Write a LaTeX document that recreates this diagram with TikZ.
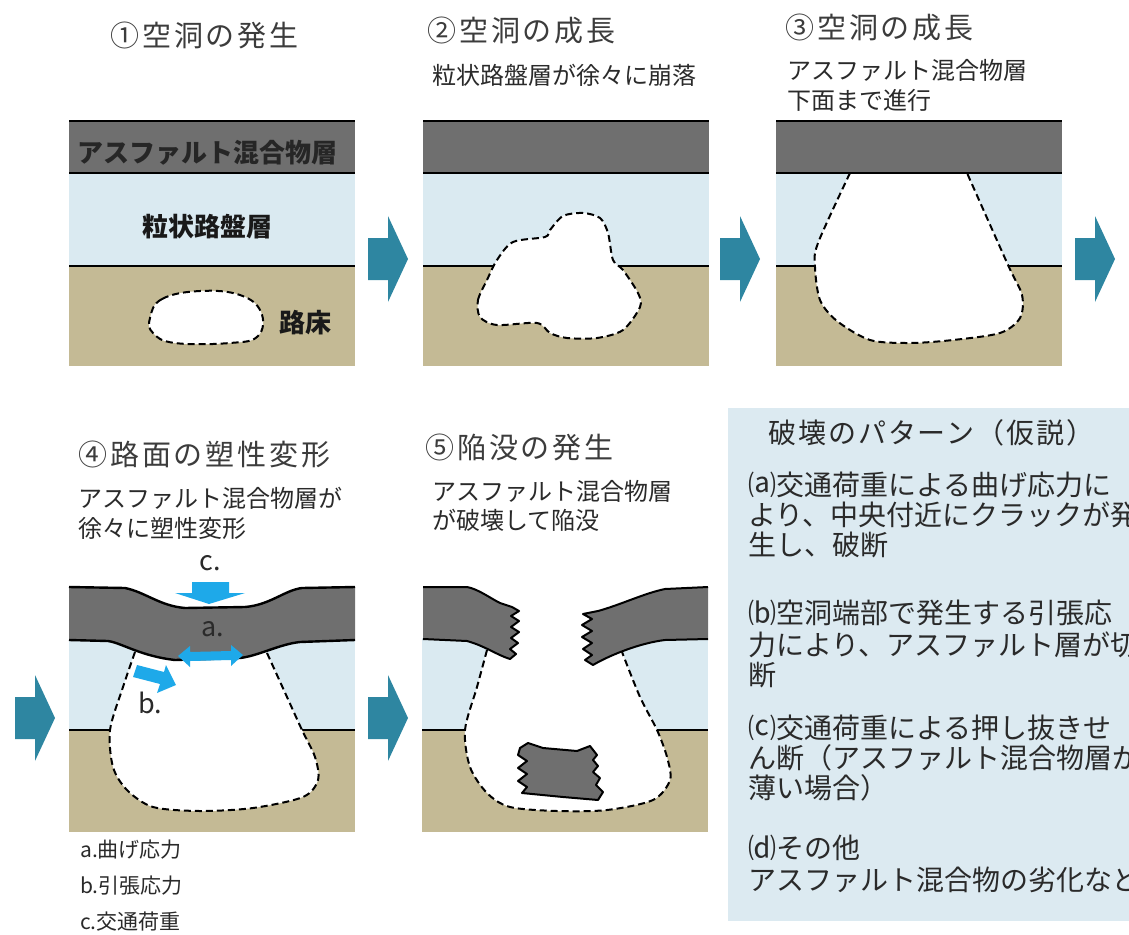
\documentclass[tikz,border=0pt]{standalone}
\usepackage{fontspec}
\setmainfont{Noto Sans CJK JP}
\newfontfamily\widehead[LetterSpace=10]{Noto Sans CJK JP}
\newfontfamily\boxhead[LetterSpace=7]{Noto Sans CJK JP}
\definecolor{asphaltgray}{HTML}{6F6F6F}
\definecolor{baseblue}{HTML}{DAEAF1}
\definecolor{subgradetan}{HTML}{C4BA95}
\definecolor{boxblue}{HTML}{DCEAF1}
\definecolor{flowteal}{HTML}{2E86A1}
\definecolor{forceblue}{HTML}{1EA9E9}
\definecolor{titlegray}{HTML}{3C3C3C}
\definecolor{textgray}{HTML}{2A2A2A}
\begin{document}
\begin{tikzpicture}[x=1pt,y=-1pt,
  layerline/.style={line width=2.4pt,black},
  voidline/.style={line width=2pt,black,dash pattern=on 7pt off 4pt,fill=white},
  piece/.style={fill=asphaltgray,draw=black,line width=2pt,line join=round},
  headtext/.style={anchor=west,inner sep=0pt,text=titlegray,font=\widehead\fontsize{29}{31}\selectfont},
  subtext/.style={anchor=west,inner sep=0pt,text=textgray,font=\fontsize{24}{26}\selectfont},
  layertext/.style={inner sep=0pt,text=black!90,font=\fontsize{26}{28}\selectfont\bfseries},
  forcetext/.style={inner sep=0pt,text=textgray,font=\fontsize{27}{29}\selectfont},
  legendtext/.style={anchor=west,inner sep=0pt,text=textgray,font=\fontsize{21}{23}\selectfont},
  boxtitle/.style={anchor=west,inner sep=0pt,text=textgray,font=\boxhead\fontsize{28}{30}\selectfont},
  boxtext/.style={anchor=west,inner sep=0pt,text=textgray,font=\fontsize{28}{30}\selectfont},
  flowarrow/.pic={\fill[flowteal] (-20,-21) -- (0,-21) -- (0,-43) -- (20,0) -- (0,43) -- (0,21) -- (-20,21) -- cycle;}
]
\useasboundingbox (0,0) rectangle (1129,934);

% ---- top row: three layered cross sections ----
\foreach \px in {69,423,776}{
  \fill[asphaltgray] (\px,121) rectangle ++(286,52);
  \fill[baseblue] (\px,173) rectangle ++(286,93);
  \fill[subgradetan] (\px,266) rectangle ++(286,100);
  \draw[layerline] (\px,266) -- ++(286,0);
}
% cavity 1: small void in the subgrade
\filldraw[voidline] plot[smooth cycle,tension=0.7] coordinates
  {(150,318) (162,299) (200,291) (240,295) (261,312) (258,336) (230,343) (175,343) (153,333)};
% cavity 2: void climbing into the base course
\filldraw[voidline] plot[smooth cycle,tension=0.5] coordinates
  {(480,317) (478,300) (487,280) (497,260) (513,242) (545,237) (550,230) (563,216) (583,213)
   (600,218) (608,233) (613,260) (623,270) (638,293) (640,307) (623,330) (597,338) (567,338)
   (550,333) (537,323) (497,325)};
% cavity 3: void reaching the asphalt underside
\filldraw[voidline] plot[smooth,tension=0.5] coordinates
  {(850,173) (818,243) (815,267) (820,300) (837,321) (870,340) (910,343) (953,340) (1000,333)
   (1020,318) (1022,295) (1008,265) (967,173)};
\foreach \px in {69,423,776}{
  \draw[layerline] (\px,121) -- ++(286,0) (\px,173) -- ++(286,0);
}
\node[layertext,text=black!85] (asphaltlbl) at (207,153) {アスファルト混合物層};
\node[layertext] (baselbl) at (207,227) {粒状路盤層};
\node[layertext] (subgradelbl) at (305,323) {路床};

% ---- panel 4: plastic deformation ----
\fill[baseblue] (69,630) rectangle (355,730);
\fill[subgradetan] (69,730) rectangle (355,832);
\draw[layerline] (69,730) -- (355,730);
\filldraw[voidline] plot[smooth,tension=0.5] coordinates
  {(135,652) (123,687) (110,730) (113,767) (127,790) (153,807) (200,811) (253,808) (303,797)
   (318,780) (315,757) (302,730) (287,697) (267,653)};
\fill[asphaltgray] (69,587) -- (125,588) .. controls (145,592) and (160,606) .. (185,608)
  -- (245,607) .. controls (270,605) and (285,590) .. (302,588) -- (355,587)
  -- (355,640) -- (300,642) .. controls (280,644) and (258,656) .. (240,658) -- (175,660)
  .. controls (140,656) and (122,643) .. (108,641) -- (69,640) -- cycle;
\draw[layerline] (69,587) -- (125,588) .. controls (145,592) and (160,606) .. (185,608)
  -- (245,607) .. controls (270,605) and (285,590) .. (302,588) -- (355,587);
\draw[layerline] (355,640) -- (300,642) .. controls (280,644) and (258,656) .. (240,658) -- (175,660)
  .. controls (140,656) and (122,643) .. (108,641) -- (69,640);
% force arrows
\fill[forceblue] (192,582) -- (229,582) -- (229,593) -- (245,593) -- (209,604) -- (175,593)
  -- (192,593) -- cycle;
\fill[forceblue] (178,656) -- (190,646) -- (190,652) -- (231,651) -- (231,645) -- (243,655)
  -- (231,666) -- (231,660) -- (190,661) -- (190,667) -- cycle;
\fill[forceblue] (137,665) -- (164,672) -- (166,665) -- (176,685) -- (157,693) -- (160,684)
  -- (133,677) -- cycle;
\node[forcetext] (clbl) at (210,563) {c.};
\node[forcetext] (albl) at (213,629) {a.};
\node[forcetext] (blbl) at (150,703) {b.};
\node[legendtext] (lega) at (80,850) {a.曲げ応力};
\node[legendtext] (legb) at (80,886) {b.引張応力};
\node[legendtext] (legc) at (80,922) {c.交通荷重};

% ---- panel 5: collapse ----
\fill[baseblue] (422,638) rectangle (708,730);
\fill[subgradetan] (422,730) rectangle (708,832);
\draw[layerline] (422,730) -- (708,730);
\fill[white] (487,634) rectangle (622,654);
\filldraw[voidline] plot[smooth,tension=0.5] coordinates
  {(487,650) (477,687) (465,730) (470,767) (487,793) (510,807) (557,811) (607,810) (653,800)
   (670,780) (667,757) (657,730) (640,697) (622,652)};
\filldraw[piece] (423,587) -- (467,587) .. controls (478,589) and (490,598) .. (500,603)
  -- (512,607) -- (519,611) -- (511,616) -- (519,621) -- (511,627) -- (519,632) -- (511,638)
  -- (518,643) -- (510,649) -- (516,654) -- (510,659) .. controls (497,655) and (485,646) .. (467,641)
  -- (423,639);
\filldraw[piece] (708,587) -- (665,589) .. controls (645,593) and (620,605) .. (598,611)
  -- (583,614) -- (592,619) -- (582,625) -- (592,631) -- (582,637) -- (592,643) -- (583,649)
  -- (592,655) -- (585,660) -- (593,665) .. controls (610,655) and (640,643) .. (665,640) -- (708,639);
\filldraw[piece] (520,748) -- (528,743) -- (543,748) -- (577,751) -- (590,746) -- (597,755)
  -- (593,760) -- (598,766) -- (593,772) -- (600,778) -- (596,785) -- (603,792) -- (598,800)
  -- (563,797) -- (522,793) -- (527,787) -- (518,781) -- (527,774) -- (518,768) -- (527,761)
  -- (518,755) -- cycle;

% ---- flow arrows between stages ----
\pic at (388,259) {flowarrow};
\pic at (740,259) {flowarrow};
\pic at (1095,259) {flowarrow};
\pic at (35,718) {flowarrow};
\pic at (388,718) {flowarrow};

% ---- stage headings ----
\node[headtext] (h1) at (110,35) {①空洞の発生};
\node[headtext] (h2) at (427,30) {②空洞の成長};
\node[subtext] (s2) at (432,75) {粒状路盤層が徐々に崩落};
\node[headtext] (h3) at (785,27) {③空洞の成長};
\node[subtext] (s3a) at (787,70) {アスファルト混合物層};
\node[subtext] (s3b) at (787,100) {下面まで進行};
\node[headtext] (h4) at (78,454) {④路面の塑性変形};
\node[subtext] (s4a) at (78,498) {アスファルト混合物層が};
\node[subtext] (s4b) at (78,528) {徐々に塑性変形};
\node[headtext] (h5) at (425,447) {⑤陥没の発生};
\node[subtext] (s5a) at (432,491) {アスファルト混合物層};
\node[subtext] (s5b) at (432,520) {が破壊して陥没};

% ---- failure pattern box ----
\fill[boxblue] (728,408) rectangle (1129,921);
\node[boxtitle] (bt) at (768,433) {破壊のパターン（仮説）};
\node[boxtext] (pa1) at (748,485) {⒜交通荷重による曲げ応力に};
\node[boxtext] (pa2) at (748,515) {より、中央付近にクラックが発};
\node[boxtext] (pa3) at (748,545) {生し、破断};
\node[boxtext] (pb1) at (748,613) {⒝空洞端部で発生する引張応};
\node[boxtext] (pb2) at (748,645) {力により、アスファルト層が切};
\node[boxtext] (pb3) at (748,675) {断};
\node[boxtext] (pc1) at (748,728) {⒞交通荷重による押し抜きせ};
\node[boxtext] (pc2) at (748,758) {ん断（アスファルト混合物層が};
\node[boxtext] (pc3) at (748,788) {薄い場合）};
\node[boxtext] (pd1) at (748,848) {⒟その他};
\node[boxtext] (pd2) at (748,880) {アスファルト混合物の劣化など};
\end{tikzpicture}
\end{document}
